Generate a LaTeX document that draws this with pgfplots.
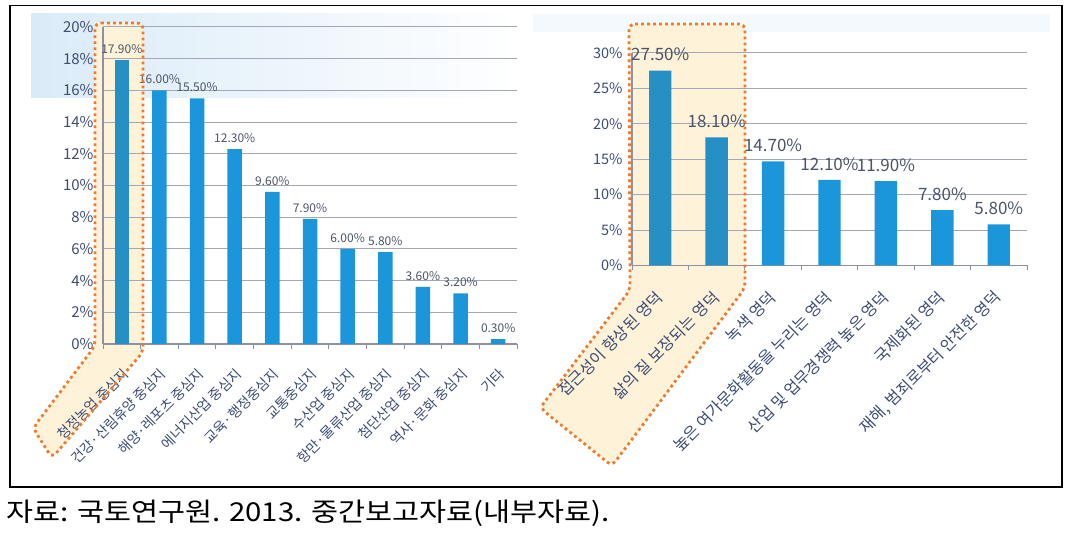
\documentclass[border=0pt]{standalone}
\usepackage{fontspec}
\setmainfont{Noto Sans CJK KR}
\usepackage{pgfplots}
\pgfplotsset{compat=1.18}
\definecolor{barblue}{HTML}{1C96DA}
\definecolor{barhl}{HTML}{2690C4}
\definecolor{gridc}{HTML}{A3A8B8}
\definecolor{axc}{HTML}{8C92A4}
\definecolor{txt}{HTML}{3D4C76}
\definecolor{lbl}{HTML}{4B5468}
\definecolor{hlfill}{HTML}{FEF3D9}
\definecolor{hlline}{HTML}{EF7A2C}
\definecolor{deco}{HTML}{DAEBF8}
\pgfplotsset{
  mychart/.style={
    scale only axis, anchor=south west, clip=false,
    xmin=-0.5,
    axis x line*=bottom, axis y line*=left,
    axis line style={axc, line width=1.2pt},
    ymajorgrids, grid style={gridc, line width=1pt},
    ytick style={draw=none},
    major x tick style={draw=none},
    minor tick style={axc, line width=1pt},
    xtick align=outside, minor tick length=5pt,
    tick label style={text=txt},
    /pgf/number format/assume math mode=true,
    yticklabel={\pgfmathprintnumber{\tick}\%},
    xticklabel style={rotate=45, anchor=east},
    nodes near coords={\pgfmathprintnumber[fixed,fixed zerofill,precision=2]{\pgfplotspointmeta}\%},
    nodes near coords style={text=lbl, anchor=south},
  }
}
\begin{document}
\begin{tikzpicture}[x=1pt,y=1pt]
\useasboundingbox (0,0) rectangle (1070,537);
% decorative background bands
\shade[left color=deco, right color=white] (31,523) rectangle (520,439);
\fill[deco!30] (533,523) rectangle (1050,505);
% highlight fills
\fill[hlfill, rounded corners=6pt] (95,514) -- (143,514) -- (143,185) -- (52,79) -- (33,109) -- (95,191) -- cycle;
\fill[hlfill, rounded corners=6pt] (629,513) -- (745,513) -- (745,249) -- (612,71) -- (540,129) -- (630,247) -- cycle;

% left chart
\begin{axis}[mychart,
  at={(103pt,193pt)}, width=414pt, height=317pt,
  xmax=10.5, ymin=0, ymax=20,
  ytick={0,2,...,20},
  xtick={0,...,10},
  minor xtick={-0.5,0.5,...,10.5},
  xticklabels={청정농업 중심지, 건강·산림휴양 중심지, 해양·레포츠 중심지, 에너지산업 중심지, 교육·행정중심지, 교통중심지, 수산업 중심지, 항만·물류산업 중심지, 첨단산업 중심지, 역사·문화 중심지, 기타},
  yticklabel style={font=\fontsize{15}{15}\selectfont, xshift=-6pt},
  xticklabel style={font=\fontsize{14}{14}\selectfont, xshift=-10pt, yshift=-19pt},
  nodes near coords style={font=\fontsize{12}{12}\selectfont, yshift=3pt},
]
\addplot[ybar, bar width=14.5pt, bar shift=0pt, fill=barhl, draw=none] coordinates {(0,17.9)};
\addplot[ybar, bar width=14.5pt, bar shift=0pt, fill=barblue, draw=none] coordinates {(1,16.0) (2,15.5) (3,12.3) (4,9.6) (5,7.9) (6,6.0) (7,5.8) (8,3.6) (9,3.2) (10,0.3)};
\end{axis}

% right chart
\begin{axis}[mychart,
  at={(632pt,271.5pt)}, width=395pt, height=212.5pt,
  xmax=6.5, ymin=0, ymax=30,
  ytick={0,5,...,30},
  xtick={0,...,6},
  minor xtick={-0.5,0.5,...,6.5},
  xticklabels={접근성이 향상된 영덕, 삶의 질 보장되는 영덕, 녹색 영덕, 높은 여가문화활동을 누리는 영덕, 산업 및 업무경쟁력 높은 영덕, 국제화된 영덕, {재해, 범죄로부터 안전한 영덕}},
  yticklabel style={font=\fontsize{14.5}{14.5}\selectfont, xshift=-6pt},
  xticklabel style={font=\fontsize{16}{16}\selectfont, xshift=-14.5pt, yshift=-17.5pt},
  nodes near coords style={font=\fontsize{17}{17}\selectfont, yshift=6pt},
]
\addplot[ybar, bar width=22.4pt, bar shift=0pt, fill=barhl, draw=none] coordinates {(0,27.5) (1,18.1)};
\addplot[ybar, bar width=22.4pt, bar shift=0pt, fill=barblue, draw=none] coordinates {(2,14.7) (3,12.1) (4,11.9) (5,7.8) (6,5.8)};
\end{axis}

% highlight borders
\draw[hlline, line width=2.8pt, dash pattern=on 2.8pt off 3.2pt, rounded corners=6pt] (95,514) -- (143,514) -- (143,185) -- (52,79) -- (33,109) -- (95,191) -- cycle;
\draw[hlline, line width=2.8pt, dash pattern=on 2.8pt off 3.2pt, rounded corners=6pt] (629,513) -- (745,513) -- (745,249) -- (612,71) -- (540,129) -- (630,247) -- cycle;

% frame
\draw[line width=1.3pt] (10,531.5) rectangle (1062,50);
% caption
\node[anchor=base west, inner sep=0pt] at (6,15) {\scalebox{1.13}[1]{\fontsize{26}{26}\selectfont 자료: 국토연구원. 2013. 중간보고자료(내부자료).}};
\end{tikzpicture}
\end{document}
